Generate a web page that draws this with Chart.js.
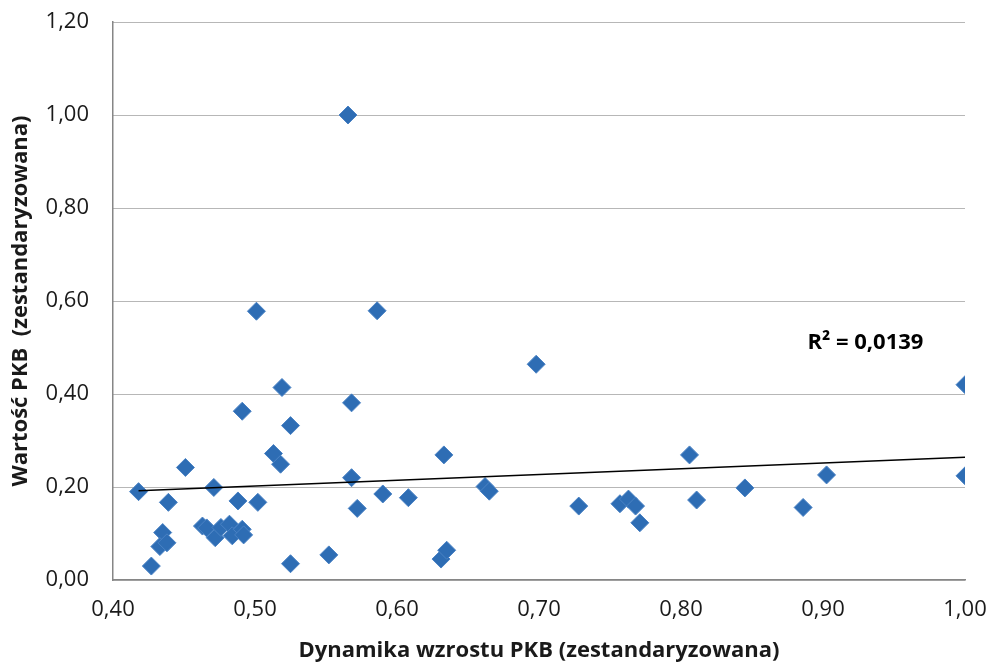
<!DOCTYPE html>
<html>
<head>
<meta charset="utf-8">
<script src="https://cdn.jsdelivr.net/npm/chart.js@4"></script>
<style>
  html, body { margin: 0; padding: 0; background: #fff; }
  #wrap { width: 991px; height: 664px; }
</style>
</head>
<body>
<div id="wrap"><canvas id="scatterChart"></canvas></div>
<script>
// values
var dynamikaX = [
  0.418, 0.427, 0.435, 0.433, 0.438, 0.439, 0.451, 0.463, 0.466, 0.471,
  0.472, 0.476, 0.482, 0.484, 0.491, 0.492, 0.488, 0.491, 0.502, 0.501,
  0.519, 0.525, 0.513, 0.518, 0.525, 0.552, 0.5655, 0.568, 0.568, 0.572,
  0.586, 0.590, 0.608, 0.631, 0.635, 0.633, 0.662, 0.665, 0.698, 0.728,
  0.757, 0.763, 0.768, 0.771, 0.806, 0.811, 0.845, 0.886, 0.9025, 1.000,
  1.000
];
var wartoscY = [
  0.190, 0.030, 0.102, 0.072, 0.080, 0.167, 0.242, 0.116, 0.112, 0.199,
  0.091, 0.113, 0.120, 0.095, 0.109, 0.097, 0.170, 0.363, 0.167, 0.578,
  0.414, 0.332, 0.272, 0.249, 0.035, 0.054, 1.000, 0.381, 0.220, 0.154,
  0.579, 0.185, 0.177, 0.045, 0.064, 0.269, 0.201, 0.191, 0.464, 0.159,
  0.164, 0.174, 0.159, 0.123, 0.269, 0.172, 0.198, 0.156, 0.226, 0.420,
  0.224
];
var trendX = [0.418, 1.0];
var trendY = [0.192, 0.264];
var r2Label = "R² = 0,0139";
var r2Pos = { x: 0.889, y: 0.51 };

var points = dynamikaX.map(function (x, i) { return { x: x, y: wartoscY[i] }; });
var trend = trendX.map(function (x, i) { return { x: x, y: trendY[i] }; });

function plFormat(v) {
  return v.toFixed(2).replace(".", ",");
}

var r2Plugin = {
  id: "r2Plugin",
  afterDatasetsDraw: function (chart) {
    var ctx = chart.ctx;
    var px = chart.scales.x.getPixelForValue(r2Pos.x);
    var py = chart.scales.y.getPixelForValue(r2Pos.y);
    ctx.save();
    ctx.font = "bold 22px 'Open Sans', sans-serif";
    ctx.fillStyle = "#000";
    ctx.textBaseline = "middle";
    ctx.textAlign = "left";
    ctx.fillText(r2Label, px, py);
    ctx.restore();
  }
};

var tickFont = { family: "'Open Sans', sans-serif", size: 22 };
var titleFont = { family: "'Open Sans', sans-serif", size: 22, weight: "bold" };

new Chart(document.getElementById("scatterChart").getContext("2d"), {
  type: "scatter",
  data: {
    datasets: [
      {
        label: "Trend",
        type: "line",
        data: trend,
        borderColor: "#000",
        borderWidth: 1.5,
        pointRadius: 0,
        fill: false,
        order: 0
      },
      {
        label: "PKB",
        data: points,
        pointStyle: "rectRot",
        pointRadius: 9,
        backgroundColor: "#2e6db4",
        borderColor: "#4a82c4",
        borderWidth: 1,
        order: 1
      }
    ]
  },
  options: {
    responsive: true,
    maintainAspectRatio: false,
    animation: false,
    layout: { padding: { top: 22, right: 26, left: 0, bottom: 0 } },
    plugins: {
      legend: { display: false },
      tooltip: { enabled: false }
    },
    scales: {
      x: {
        type: "linear",
        min: 0.4,
        max: 1.0,
        afterFit: function (s) {
          s.height = 84;
          s.paddingLeft = 0;
          s.paddingRight = 0;
        },
        ticks: {
          stepSize: 0.1,
          color: "#1a1a1a",
          font: tickFont,
          padding: 17,
          callback: function (v) { return plFormat(v); }
        },
        grid: { display: false, drawTicks: false },
        border: { display: true, color: "#868686", width: 1.5 },
        title: {
          display: true,
          text: "Dynamika wzrostu PKB (zestandaryzowana)",
          color: "#1a1a1a",
          font: titleFont,
          padding: { top: 4, bottom: 0 }
        }
      },
      y: {
        min: 0,
        max: 1.2,
        afterFit: function (s) {
          s.width = 113;
          s.paddingTop = 0;
          s.paddingBottom = 0;
        },
        ticks: {
          stepSize: 0.2,
          color: "#1a1a1a",
          font: tickFont,
          padding: 24,
          callback: function (v) { return plFormat(v); }
        },
        grid: { color: "#6e6e6e", lineWidth: 1, drawTicks: false },
        border: { display: true, color: "#868686", width: 1.5, dash: [1, 1] },
        title: {
          display: true,
          text: "Wartość PKB  (zestandaryzowana)",
          color: "#1a1a1a",
          font: titleFont,
          padding: { top: 8, bottom: 0 }
        }
      }
    }
  },
  plugins: [r2Plugin]
});
</script>
</body>
</html>
